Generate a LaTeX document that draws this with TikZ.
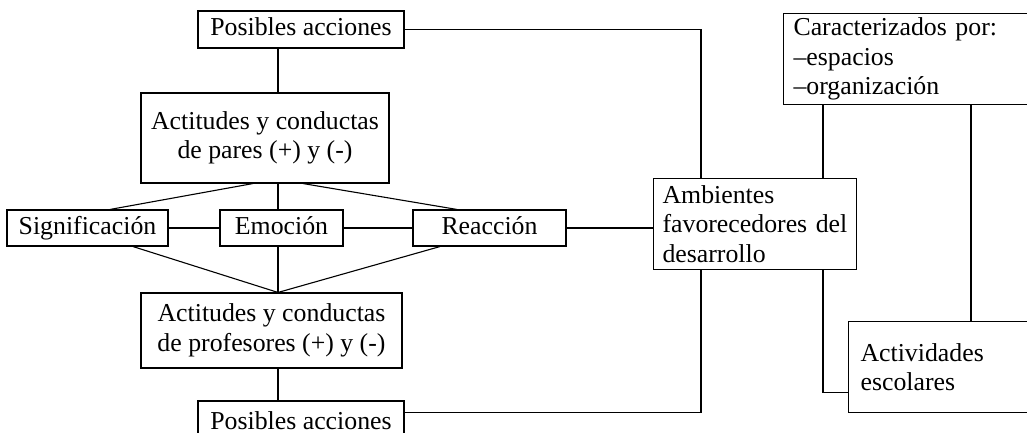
\documentclass[tikz,border=0pt]{standalone}
\usepackage{fontspec}
\setmainfont{Liberation Serif}
\usetikzlibrary{calc}

\begin{document}
\begin{tikzpicture}[x=1pt,y=1pt,yscale=-1,xscale=1,line width=1.1pt,
        box/.style={draw, inner sep=0pt, align=center, font=\fontsize{25.8}{29.5}\selectfont},
        oneline/.style={box, text height=18pt, text depth=6pt},
        leftbox/.style={draw, anchor=north west, inner ysep=0pt, align=left, minimum height=91pt, font=\fontsize{25.8}{29.5}\selectfont}]
        \useasboundingbox (0,0) rectangle (1027,433);
        \clip (0,0) rectangle (1027,433);
        
        % Text Node
        \node [oneline, minimum width=206pt, minimum height=37pt] (accA) at (301,29.5) {Posibles acciones};
        % Text Node
        \node [box, minimum width=248pt, minimum height=90pt] (pares) at (265,138) {Actitudes y conductas\\de pares (+) y (-)};
        % Text Node
        \node [oneline, minimum width=161pt, minimum height=36pt] (sig) at (87.5,228) {Significación};
        % Text Node
        \node [oneline, minimum width=123pt, minimum height=36pt] (emo) at (281.5,228) {Emoción};
        % Text Node
        \node [oneline, minimum width=153pt, minimum height=36pt] (rea) at (489.5,228) {Reacción};
        % Text Node
        \node [box, minimum width=261pt, minimum height=75pt] (prof) at (271.5,330.5) {Actitudes y conductas\\de profesores (+) y (-)};
        % Text Node
        \node [oneline, minimum width=206pt, minimum height=44pt] (accB) at (301,423) {Posibles acciones};
        % Text Node
        \node [leftbox, inner xsep=9pt, text width=185pt] (amb) at (653,178) {Ambientes\\favorecedores del\\desarrollo};
        % Text Node
        \node [leftbox, inner xsep=10pt, text width=237pt] (car) at (783,13) {Caracterizados por:\\–espacios\\–organización};
        % Text Node
        \node [leftbox, inner xsep=12pt, text width=180pt] (act) at (848,321) {Actividades\\escolares};
        
        % vertical runs
        \coordinate (xL) at (278,0);
        \coordinate (xM) at (701,0);
        \coordinate (xR) at (823,0);
        \coordinate (xF) at (971,0);
        
        %Straight Lines
        \draw (accA.south -| xL) -- (pares.north -| xL);
        \draw ($(pares.south)+(-12,0)$) -- ($(sig.north)+(22.5,0)$);
        \draw (pares.south -| xL) -- (emo.north -| xL);
        \draw ($(pares.south)+(38,0)$) -- ($(rea.north)+(-32.5,0)$);
        \draw (sig.east) -- (emo.west);
        \draw (emo.east) -- (rea.west);
        \draw (rea.east) -- (rea.east -| amb.west);
        \draw ($(sig.south)+(45.5,0)$) -- (prof.north -| xL);
        \draw (emo.south -| xL) -- (prof.north -| xL);
        \draw ($(rea.south)+(-49.5,0)$) -- (prof.north -| xL);
        \draw (prof.south -| xL) -- (accB.north -| xL);
        %Elbow Lines
        \draw (accA.east) -| (amb.north -| xM);
        \draw ($(accB.north east)+(0,12)$) -| (amb.south -| xM);
        \draw (car.south -| xR) -- (amb.north -| xR);
        \draw (amb.south -| xR) |- ($(act.west)+(0,25.5)$);
        \draw (car.south -| xF) -- (act.north -| xF);
        
\end{tikzpicture}
\end{document}
